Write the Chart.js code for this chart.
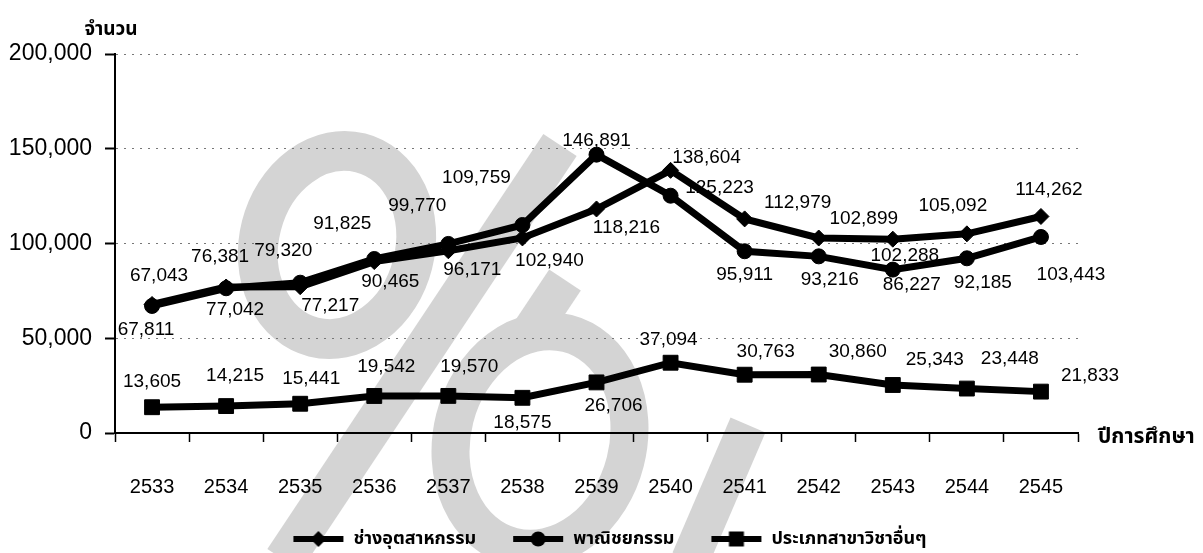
<!DOCTYPE html>
<html>
<head>
<meta charset="utf-8">
<script src="https://cdn.jsdelivr.net/npm/chart.js@4"></script>
<style>
  html, body { margin: 0; padding: 0; background: #fff; }
  canvas { display: block; }
</style>
</head>
<body>
<canvas id="myChart" width="1203" height="553"></canvas>
<script>
const years = ["2533", "2534", "2535", "2536", "2537", "2538", "2539", "2540", "2541", "2542", "2543", "2544", "2545"];
const industrial = [67811, 77042, 77217, 90465, 96171, 102940, 118216, 138604, 112979, 102899, 102288, 105092, 114262];
const commerce = [67043, 76381, 79320, 91825, 99770, 109759, 146891, 125223, 95911, 93216, 86227, 92185, 103443];
const others = [13605, 14215, 15441, 19542, 19570, 18575, 26706, 37094, 30763, 30860, 25343, 23448, 21833];
const seriesNames = ["ช่างอุตสาหกรรม", "พาณิชยกรรม", "ประเภทสาขาวิชาอื่นๆ"];
const yMax = 200000;
const yStep = 50000;

// where each value label sits relative to its point (px), placed by hand in the original
const labelNudge = {
  industrial: [[-6, 25], [9, 23], [30, 19], [16, 20], [24, 19], [27, 23], [30, 19], [36, -13], [53, -16], [45, -19], [12, 17], [-14, -28], [8, -27]],
  commerce: [[7, -30], [-6, -31], [-17, -32], [-32, -35], [-31, -38], [-46, -47], [0, -14], [49, -8], [0, 24], [11, 23], [19, 15], [16, 24], [30, 38]],
  others: [[0, -25], [9, -30], [11, -25], [12, -29], [21, -29], [0, 25], [17, 23], [-2, -23], [21, -23], [39, -23], [42, -25], [43, -30], [49, -16]]
};

const FONT = "'Liberation Sans', Arial, 'Noto Sans Thai', 'Noto Sans', sans-serif";
Chart.defaults.font.family = FONT;
Chart.defaults.color = "#000";

function legendIcon(shape) {
  const c = document.createElement("canvas");
  c.width = 68;
  c.height = 20;
  const g = c.getContext("2d");
  g.strokeStyle = "#000";
  g.fillStyle = "#000";
  g.lineWidth = 6;
  g.beginPath();
  g.moveTo(17, 10);
  g.lineTo(67, 10);
  g.stroke();
  const cx = 42, cy = 10;
  g.beginPath();
  if (shape === "rectRot") {
    g.moveTo(cx, cy - 8); g.lineTo(cx + 8, cy); g.lineTo(cx, cy + 8); g.lineTo(cx - 8, cy); g.closePath();
  } else if (shape === "circle") {
    g.arc(cx, cy, 7.5, 0, Math.PI * 2);
  } else {
    g.rect(cx - 7.5, cy - 7.5, 15, 15);
  }
  g.fill();
  return c;
}

// grey "watermark" strokes behind the chart
const watermark = {
  id: "watermark",
  beforeDraw(chart) {
    const ctx = chart.ctx;
    ctx.save();
    ctx.fillStyle = "#fff";
    ctx.fillRect(0, 0, chart.width, chart.height);
    ctx.strokeStyle = "#d4d4d4";
    ctx.lineWidth = 40;
    ctx.beginPath();
    ctx.ellipse(337, 245, 78, 95, 0.25, 0, Math.PI * 2);
    ctx.stroke();
    ctx.beginPath();
    ctx.moveTo(560, 145);
    ctx.lineTo(284, 560);
    ctx.stroke();
    ctx.lineWidth = 38;
    ctx.beginPath();
    ctx.ellipse(540, 440, 88, 110, 0.25, 0, Math.PI * 2);
    ctx.stroke();
    ctx.beginPath();
    ctx.moveTo(565, 280);
    ctx.lineTo(525, 340);
    ctx.stroke();
    ctx.beginPath();
    ctx.moveTo(748, 425);
    ctx.lineTo(690, 560);
    ctx.stroke();
    ctx.restore();
  }
};

const valueLabels = {
  id: "valueLabels",
  afterDatasetsDraw(chart) {
    const ctx = chart.ctx;
    ctx.save();
    ctx.font = "19px " + FONT;
    ctx.fillStyle = "#000";
    ctx.textAlign = "center";
    ctx.textBaseline = "middle";
    chart.data.datasets.forEach((ds, i) => {
      const meta = chart.getDatasetMeta(i);
      meta.data.forEach((pt, j) => {
        const n = ds.nudge[j];
        ctx.fillText(ds.data[j].toLocaleString("en-US"), pt.x + n[0], pt.y + n[1]);
      });
    });
    ctx.restore();
  }
};

const axisNames = {
  id: "axisNames",
  afterLayout(chart) {
    // the legend sits a little lower than Chart.js puts it
    chart.legend.top += 5;
    chart.legend.bottom += 5;
  },
  afterDraw(chart) {
    const ctx = chart.ctx;
    const x = chart.scales.x, y = chart.scales.y;
    ctx.save();
    ctx.fillStyle = "#000";
    ctx.textBaseline = "middle";
    ctx.font = "bold 21px " + FONT;
    ctx.textAlign = "left";
    ctx.fillText("ปีการศึกษา", x.right + 20, x.top + 4);
    ctx.font = "bold 19px " + FONT;
    ctx.textAlign = "center";
    ctx.fillText("จำนวน", y.right - 4, y.top - 24);
    ctx.restore();
  }
};

const ctx = document.getElementById("myChart").getContext("2d");
const myChart = new Chart(ctx, {
  type: "line",
  data: {
    labels: years,
    datasets: [
      { label: seriesNames[0], data: industrial, nudge: labelNudge.industrial, pointStyle: "rectRot", pointRadius: 8 },
      { label: seriesNames[1], data: commerce, nudge: labelNudge.commerce, pointStyle: "circle", pointRadius: 7.5 },
      { label: seriesNames[2], data: others, nudge: labelNudge.others, pointStyle: "rect", pointRadius: 10.5 }
    ].map(ds => Object.assign(ds, {
      borderColor: "#000",
      backgroundColor: "#000",
      pointBackgroundColor: "#000",
      pointBorderColor: "#000",
      pointBorderWidth: 1,
      borderWidth: 7,
      tension: 0,
      fill: false
    }))
  },
  options: {
    responsive: false,
    animation: false,
    devicePixelRatio: 1,
    layout: { padding: { top: 54, left: 0, right: 0, bottom: 0 } },
    scales: {
      x: {
        offset: true,
        grid: { offset: true, drawOnChartArea: false, drawTicks: true, tickLength: 9, tickColor: "#000", tickWidth: 1.5 },
        border: { color: "#000", width: 2 },
        ticks: { font: { size: 20 }, color: "#000", padding: 33, maxRotation: 0 },
        afterFit(scale) {
          scale.height = 72;
          scale.paddingRight = 125;
          scale.paddingLeft = 0;
        }
      },
      y: {
        min: 0,
        max: yMax,
        ticks: {
          stepSize: yStep,
          font: { size: 23 },
          color: "#000",
          padding: 13,
          callback: v => v.toLocaleString("en-US")
        },
        grid: {
          color: c => (c.tick && c.tick.value === 0 ? "rgba(0,0,0,0)" : "#777"),
          lineWidth: 1,
          tickLength: 10,
          tickColor: "#000",
          tickWidth: 2
        },
        border: { color: "#000", width: 2, dash: [2, 6] },
        afterFit(scale) {
          scale.width = 115;
        }
      }
    },
    plugins: {
      tooltip: { enabled: false },
      legend: {
        position: "bottom",
        labels: {
          usePointStyle: true,
          pointStyleWidth: 68,
          boxHeight: 18,
          padding: 20,
          color: "#000",
          font: { size: 18, weight: "bold" },
          generateLabels: chart => chart.data.datasets.map((ds, i) => ({
            text: ds.label,
            pointStyle: legendIcon(ds.pointStyle),
            fillStyle: "#000",
            strokeStyle: "#000",
            lineWidth: 0,
            hidden: false,
            datasetIndex: i
          }))
        }
      }
    }
  },
  plugins: [watermark, valueLabels, axisNames]
});
</script>
</body>
</html>
